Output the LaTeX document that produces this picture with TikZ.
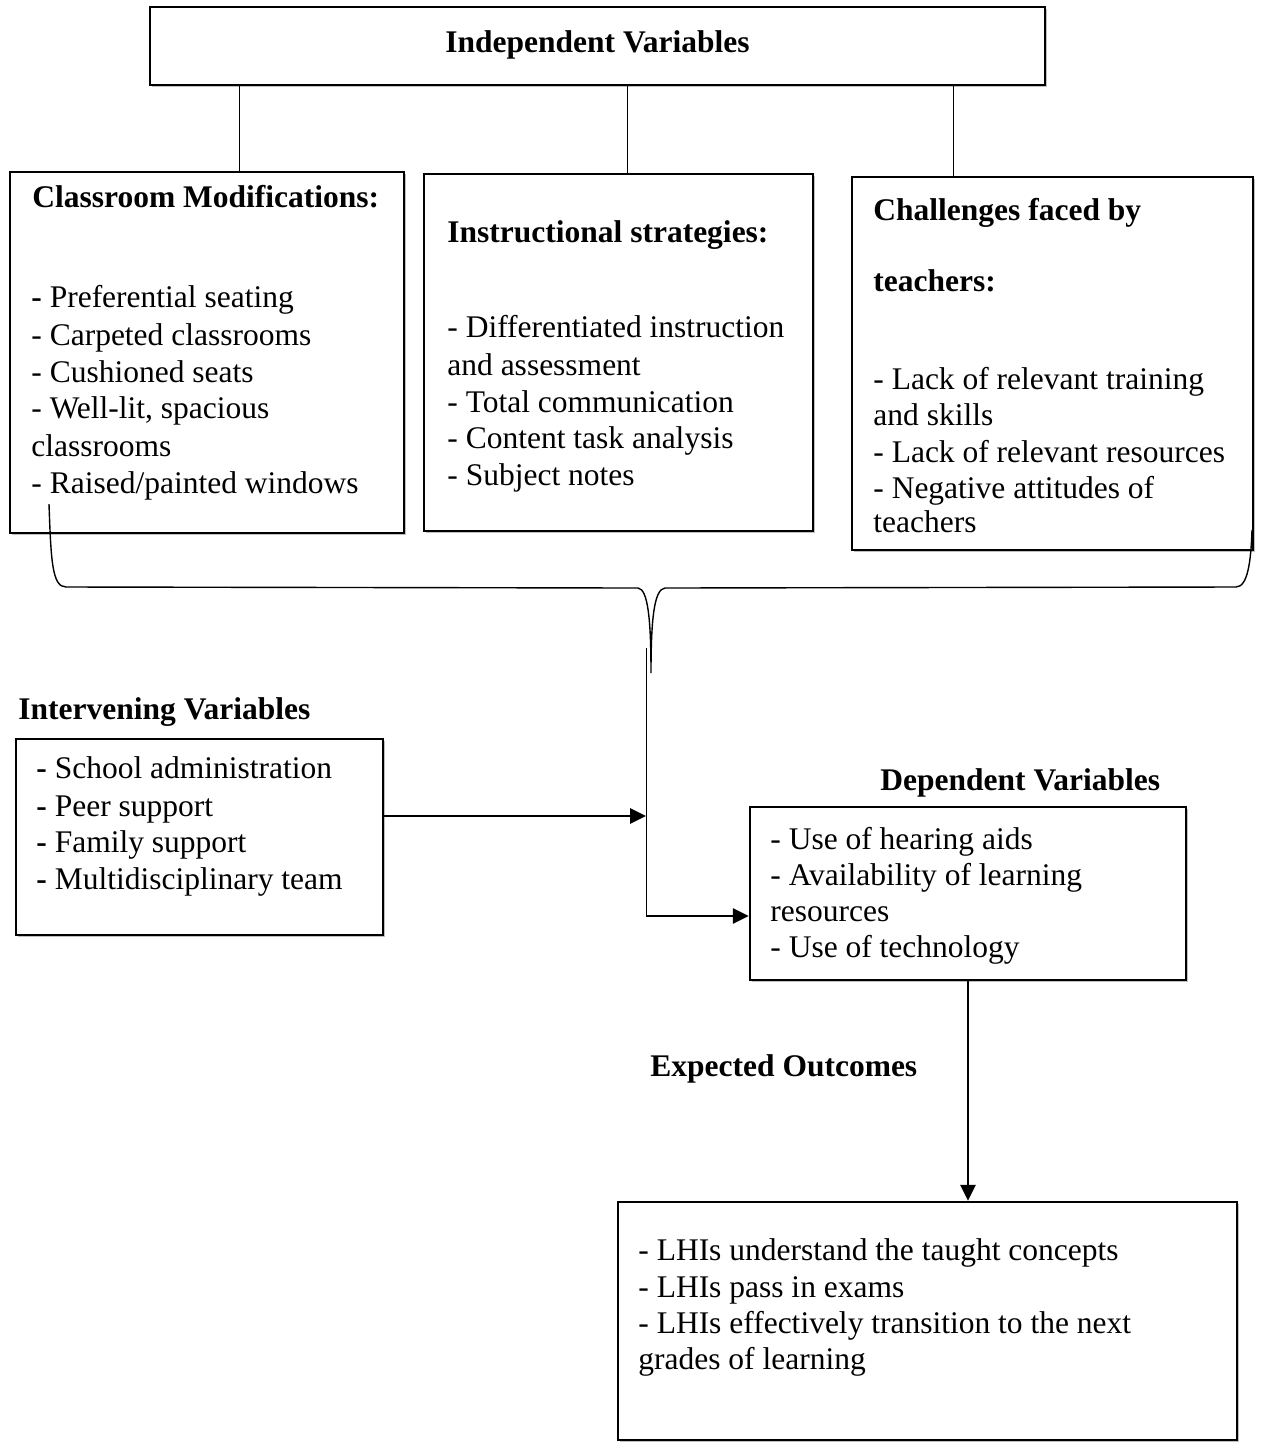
\documentclass[tikz,border=0pt]{standalone}
\usepackage{fontspec}
\setmainfont{Liberation Serif}
\usetikzlibrary{arrows.meta,shadows,calc}
\begin{document}
\begin{tikzpicture}[x=0.5pt,y=-0.5pt,
  box/.style={draw, line width=1.2pt, inner sep=0pt, fill=white,
    drop shadow={shadow xshift=0.8pt,shadow yshift=-0.8pt,fill=black!50}},
  txt/.style={anchor=base west, inner sep=0pt, font=\fontsize{15.75pt}{18.5pt}\selectfont},
  btxt/.style={txt, font=\fontsize{15.75pt}{18.5pt}\selectfont\bfseries},
  thinline/.style={line width=0.5pt},
  arr/.style={line width=1.4pt, -{Triangle[length=8pt,width=7.5pt]}}]
\useasboundingbox (0,0) rectangle (1260,1453);

% boxes
\node[box, minimum width=447.5pt, minimum height=39pt] (indep) at (597.5,46) {};
\node[box, minimum width=197pt, minimum height=180.5pt] (cls) at (207,352.5) {};
\node[box, minimum width=194.5pt, minimum height=178.5pt] (ins) at (618.5,352.5) {};
\node[box, minimum width=200.5pt, minimum height=186.5pt] (chal) at (1052.5,363.5) {};
\node[box, minimum width=183.5pt, minimum height=98pt] (inter) at (199.5,837) {};
\node[box, minimum width=218pt, minimum height=86.5pt] (dep) at (968,893.5) {};
\node[box, minimum width=309.5pt, minimum height=119pt] (out) at (927.5,1321) {};

% independent title
\node[btxt, anchor=base] (indepT) at (597.5,52) {Independent Variables};

% classroom
\node[btxt] (c0) at (32,207) {Classroom Modifications:};
\node[txt] (c1) at (31,307) {\textbf{-} Preferential seating};
\node[txt] (c2) at (31,345) {- Carpeted classrooms};
\node[txt] (c3) at (31,382) {- Cushioned seats};
\node[txt] (c4) at (31,418) {- Well-lit, spacious};
\node[txt] (c5) at (31,456) {classrooms};
\node[txt] (c6) at (31,493) {- Raised/painted windows};

% instructional
\node[btxt] (i0) at (447,242) {Instructional strategies:};
\node[txt] (i1) at (447,337) {- Differentiated instruction};
\node[txt] (i2) at (447,375) {and assessment};
\node[txt] (i3) at (447,412) {- Total communication};
\node[txt] (i4) at (447,448) {- Content task analysis};
\node[txt] (i5) at (447,485) {- Subject notes};

% challenges
\node[btxt] (h0) at (873,220) {Challenges faced by};
\node[btxt] (h1) at (873,291) {teachers:};
\node[txt] (h2) at (873,389) {- Lack of relevant training};
\node[txt] (h3) at (873,425) {and skills};
\node[txt] (h4) at (873,462) {- Lack of relevant resources};
\node[txt] (h5) at (873,498) {- Negative attitudes of};
\node[txt] (h6) at (873,532) {teachers};

% intervening
\node[btxt] (v0) at (18,719) {Intervening Variables};
\node[txt] (v1) at (36,778) {\textbf{-} School administration};
\node[txt] (v2) at (36,816) {\textbf{-} Peer support};
\node[txt] (v3) at (36,852) {\textbf{-} Family support};
\node[txt] (v4) at (36,889) {\textbf{-} Multidisciplinary team};

% dependent
\node[btxt] (d0) at (880,790) {Dependent Variables};
\node[txt] (d1) at (770,849) {- Use of hearing aids};
\node[txt] (d2) at (770,885) {- Availability of learning};
\node[txt] (d3) at (770,921) {resources};
\node[txt] (d4) at (770,957) {- Use of technology};

% outcomes
\node[btxt] (e0) at (650,1076) {Expected Outcomes};
\node[txt] (o1) at (638,1260) {- LHIs understand the taught concepts};
\node[txt] (o2) at (638,1297) {- LHIs pass in exams};
\node[txt] (o3) at (638,1333) {- LHIs effectively transition to the next};
\node[txt] (o4) at (638,1369) {grades of learning};

% connectors from top box
\draw[thinline] (239,0 |- indep.south) -- (239,0 |- cls.north);
\draw[thinline] (627,0 |- indep.south) -- (627,0 |- ins.north);
\draw[thinline] (953,0 |- indep.south) -- (953,0 |- chal.north);

% brace
\coordinate (bl) at (49,504);
\coordinate (br) at (1252,530);
\coordinate (tip) at (651,673);
\draw[line width=0.7pt] (bl) .. controls (51,560) and (52,587) .. (66,587)
  -- (638,588) .. controls (648,589) and (651,620) .. (tip)
  .. controls (651,620) and (654,589) .. (665,588)
  -- (1236,587) .. controls (1248,587) and (1251,560) .. (br);

% junction line and arrows
\coordinate (j) at (646,648);
\coordinate (jm) at (646,816);
\coordinate (jb) at (646,916);
\draw[thinline] (j) -- (jb);
\draw[arr] (inter.east |- jm) -- (jm);
\draw[arr] (jb) -- (jb -| dep.west);
\draw[arr] (dep.south) -- (dep.south |- out.north);
\end{tikzpicture}
\end{document}
